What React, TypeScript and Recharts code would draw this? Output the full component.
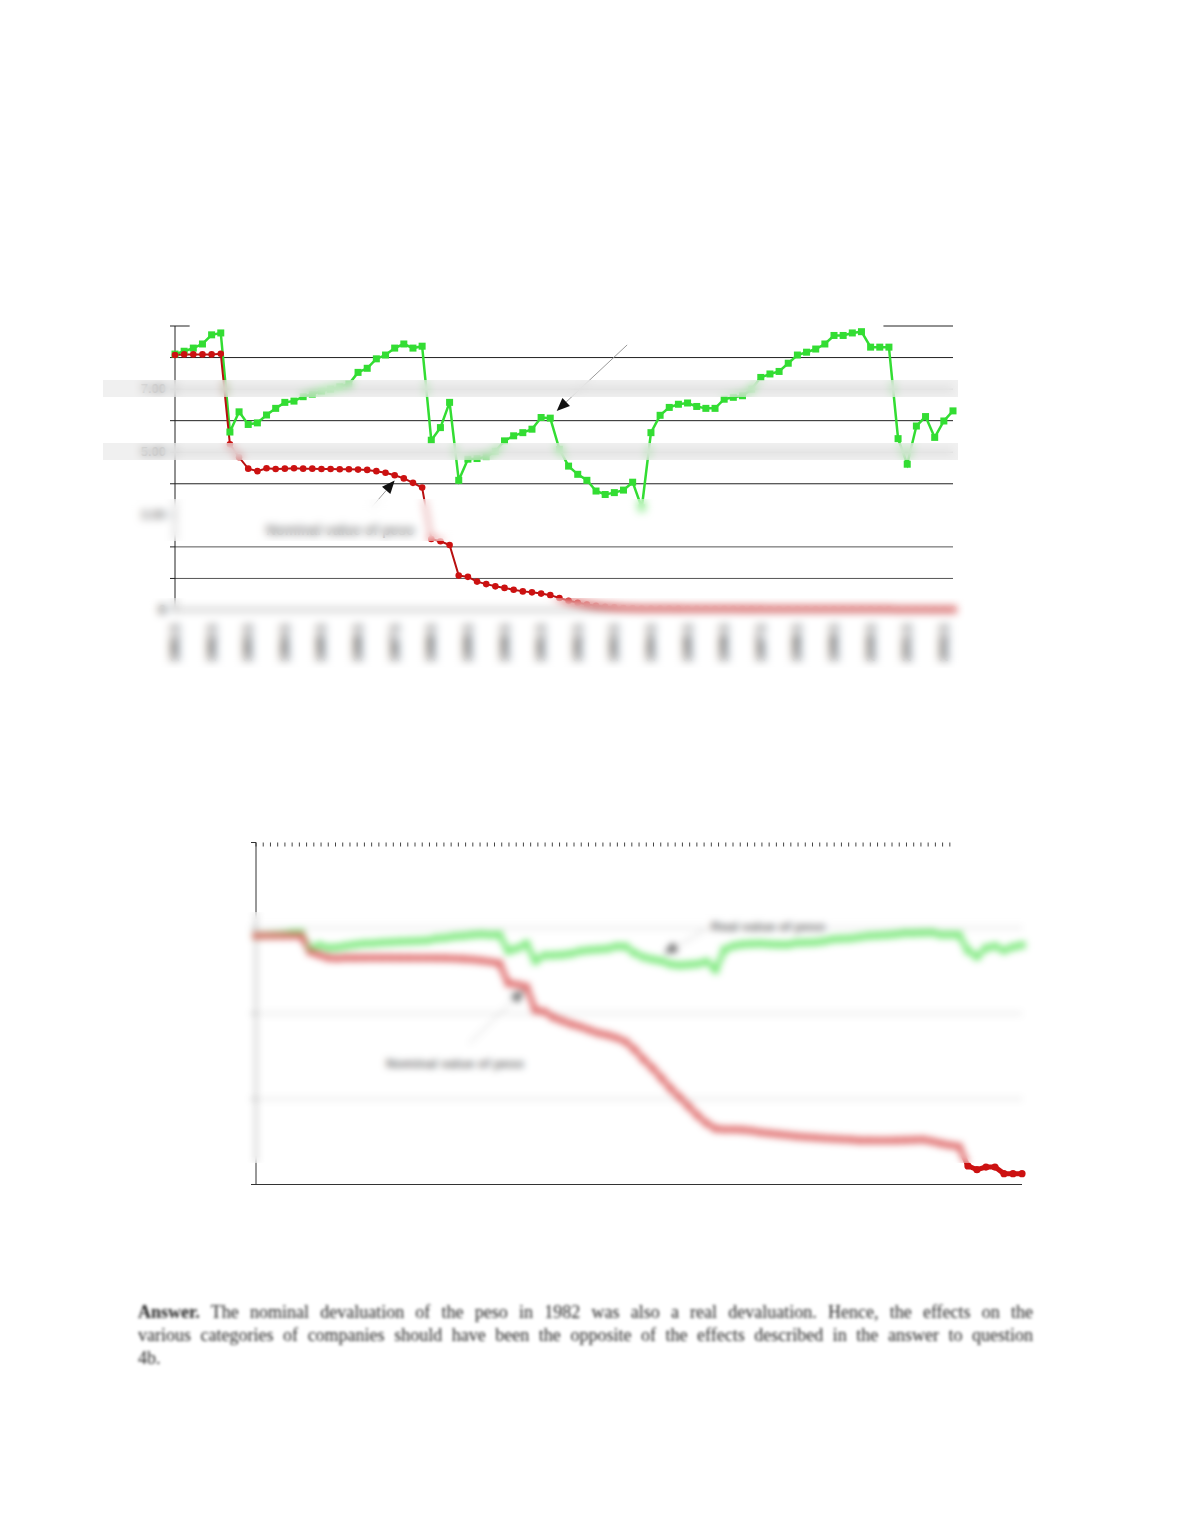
import React from "react";
import { LineChart, Line, XAxis, YAxis, ReferenceLine } from "recharts";

// quarterly observations, index 0..85
const yearLabels = [
  "1981:1", "1982:1", "1983:1", "1984:1", "1985:1", "1986:1", "1987:1", "1988:1",
  "1989:1", "1990:1", "1991:1", "1992:1", "1993:1", "1994:1", "1995:1", "1996:1",
  "1997:1", "1998:1", "1999:1", "2000:1", "2001:1", "2002:1",
];

const realValue = [
  8.11, 8.2, 8.3, 8.43, 8.72, 8.78, 5.64, 6.28, 5.88, 5.93,
  6.18, 6.39, 6.58, 6.62, 6.76, 6.84, 6.94, 7.0, 7.07, 7.16,
  7.53, 7.66, 7.96, 8.08, 8.3, 8.43, 8.3, 8.36, 5.38, 5.78,
  6.58, 4.11, 4.78, 4.8, 4.86, 5.03, 5.36, 5.52, 5.62, 5.73,
  6.1, 6.08, 5.09, 4.56, 4.3, 4.11, 3.77, 3.66, 3.72, 3.8,
  4.05, 3.24, 5.62, 6.17, 6.42, 6.52, 6.56, 6.45, 6.39, 6.39,
  6.68, 6.74, 6.79, 7.0, 7.37, 7.48, 7.56, 7.82, 8.08, 8.17,
  8.27, 8.43, 8.7, 8.7, 8.78, 8.82, 8.33, 8.33, 8.33, 5.43,
  4.62, 5.83, 6.13, 5.47, 5.99, 6.31,
];

const nominalValue = [
  8.08, 8.1, 8.1, 8.1, 8.1, 8.12, 5.25, 4.84, 4.48, 4.4,
  4.49, 4.47, 4.48, 4.49, 4.48, 4.48, 4.47, 4.47, 4.46, 4.46,
  4.45, 4.44, 4.4, 4.35, 4.27, 4.17, 4.03, 3.88, 2.25, 2.18,
  2.06, 1.09, 1.05, 0.9, 0.82, 0.75, 0.7, 0.64, 0.59, 0.56,
  0.52, 0.47, 0.38, 0.29, 0.23, 0.175, 0.133, 0.105, 0.082, 0.064,
  0.052, 0.045, 0.044, 0.044, 0.0436, 0.0424, 0.0408, 0.0397, 0.0386, 0.0376,
  0.0366, 0.0359, 0.0354, 0.0347, 0.0343, 0.0338, 0.0334, 0.0328, 0.0328, 0.0327,
  0.0327, 0.0328, 0.033, 0.0332, 0.0335, 0.032, 0.0302, 0.0288, 0.028, 0.0165,
  0.0149, 0.016, 0.016, 0.0134, 0.0134, 0.0134,
];

const linearTicks = [0, 1, 2, 3, 4, 5, 6, 7, 8, 9];
const linearGrid = [1, 2, 4, 5, 6, 7, 8];
const linearLabels: Record<number, string> = { 0: "0", 3: "3.00", 5: "5.00", 7: "7.00" };
const logTicks = [0.01, 0.1, 1, 10, 100];
const logGrid = [0.1, 1, 10];
// fine tick row along the top of the log chart
const topTicks = Array.from({ length: 97 }, (_, k) => k * 0.802);

const GREEN = "#33dd33";
const RED = "#cc1111";

const data = realValue.map((r, i) => ({ i, real: r, nominal: nominalValue[i] }));

const Square = (props: any) => {
  const { cx, cy, index } = props;
  if (cx == null || cy == null) return <g key={index} />;
  return <rect key={index} x={cx - 3.5} y={cy - 3.5} width={7} height={7} fill={GREEN} />;
};

const EmptyTick = () => <g />;

const Arrow = (props: any) => {
  const { x1, y1, x2, y2 } = props;
  const a = Math.atan2(y2 - y1, x2 - x1);
  const len = 13;
  const w = 5.5;
  const bx = x2 - len * Math.cos(a);
  const by = y2 - len * Math.sin(a);
  const pts = [
    [x2, y2],
    [bx + w * Math.sin(a), by - w * Math.cos(a)],
    [bx - w * Math.sin(a), by + w * Math.cos(a)],
  ]
    .map((p) => p.join(","))
    .join(" ");
  return (
    <g>
      <line x1={x1} y1={y1} x2={bx} y2={by} stroke="#9a9a9a" strokeWidth={1} />
      <polygon points={pts} fill="#111" />
    </g>
  );
};

const YearTick = ({ x, y, payload }: any) => (
  <g transform={`translate(${x},${y + 6})`}>
    <text
      transform="rotate(-90)"
      textAnchor="end"
      dy={4}
      fontSize={12}
      fontWeight="bold"
      fill="#333"
      fontFamily="Liberation Sans"
    >
      {yearLabels[payload.value / 4]}
    </text>
  </g>
);

const ValueTick = ({ x, y, payload }: any) => {
  const label = linearLabels[payload.value];
  if (!label) return <g />;
  return (
    <text x={x - 2} y={y} dy={4} textAnchor="end" fontSize={13} fontWeight="bold" fill="#333" fontFamily="Liberation Sans">
      {label}
    </text>
  );
};

const Blur = ({ left, top, width, height, blur, bg }: any) => (
  <div
    style={{
      position: "absolute",
      left,
      top,
      width,
      height,
      background: bg,
      backdropFilter: `blur(${blur}px)`,
      WebkitBackdropFilter: `blur(${blur}px)`,
    }}
  />
);

const Label = ({ left, top, size, children }: any) => (
  <div
    style={{
      position: "absolute",
      left,
      top,
      fontFamily: "Liberation Sans",
      fontSize: size,
      fontWeight: "bold",
      color: "#333",
      whiteSpace: "nowrap",
    }}
  >
    {children}
  </div>
);

const lineStyle: React.CSSProperties = {
  whiteSpace: "nowrap",
  textAlign: "justify",
  textAlignLast: "justify",
};

export default function App() {
  return (
    <div style={{ position: "absolute", left: 0, top: 0, width: 1180, height: 1527, background: "#fff" }}>
      {/* linear chart */}
      <div style={{ position: "absolute", left: 100, top: 300 }}>
        <LineChart width={880} height={370} data={data} margin={{ top: 26, right: 27, bottom: 10, left: 15 }}>
          <XAxis
            type="number"
            dataKey="i"
            domain={[0, 85]}
            ticks={yearLabels.map((_, k) => k * 4)}
            tick={<YearTick />}
            tickLine={false}
            axisLine={{ stroke: "#222" }}
            height={50}
          />
          <YAxis
            type="number"
            domain={[0, 9]}
            ticks={linearTicks}
            tick={<ValueTick />}
            tickSize={5}
            tickLine={{ stroke: "#222" }}
            axisLine={{ stroke: "#222" }}
            width={60}
          />
          {linearGrid.map((v) => (
            <ReferenceLine key={v} y={v} stroke={v < 3 ? "#555" : "#222"} strokeWidth={1} />
          ))}
          <ReferenceLine segment={[{ x: 0, y: 9 }, { x: 1.6, y: 9 }]} stroke="#222" />
          <ReferenceLine segment={[{ x: 77.4, y: 9 }, { x: 85, y: 9 }]} stroke="#222" />
          <Line dataKey="real" stroke={GREEN} strokeWidth={2.5} dot={Square} isAnimationActive={false} />
          <Line
            dataKey="nominal"
            stroke="#b81010"
            strokeWidth={2}
            dot={{ r: 3.3, fill: RED, stroke: RED, strokeWidth: 0 }}
            isAnimationActive={false}
          />
          <ReferenceLine segment={[{ x: 21.5, y: 3.26 }, { x: 24.0, y: 4.1 }]} shape={Arrow} ifOverflow="visible" />
          <ReferenceLine segment={[{ x: 49.4, y: 8.4 }, { x: 41.7, y: 6.31 }]} shape={Arrow} ifOverflow="visible" />
        </LineChart>
      </div>
      <Label left={266} top={522} size={14}>Nominal value of peso</Label>
      <Blur left={103} top={380} width={855} height={17} blur={4} bg="rgba(228,228,228,0.55)" />
      <Blur left={103} top={443} width={855} height={17} blur={4} bg="rgba(228,228,228,0.55)" />
      <Blur left={103} top={499} width={855} height={42} blur={4} bg="rgba(255,255,255,0.35)" />
      <Blur left={145} top={598} width={820} height={70} blur={4} bg="rgba(255,255,255,0.05)" />

      {/* log chart */}
      <div style={{ position: "absolute", left: 200, top: 820 }}>
        <LineChart width={850} height={390} data={data} margin={{ top: 22.5, right: 28, bottom: 25.5, left: 36 }}>
          <XAxis
            type="number"
            dataKey="i"
            orientation="top"
            domain={[0, 85]}
            ticks={topTicks}
            interval={0}
            tick={EmptyTick}
            mirror
            tickSize={4}
            tickLine={{ stroke: "#444" }}
            axisLine={false}
            height={10}
          />
          <YAxis
            type="number"
            scale="log"
            domain={[0.01, 100]}
            allowDataOverflow
            ticks={logTicks}
            interval={0}
            tick={EmptyTick}
            tickSize={5}
            tickLine={{ stroke: "#333" }}
            axisLine={{ stroke: "#333" }}
            width={20}
          />
          {logGrid.map((v) => (
            <ReferenceLine key={v} y={v} stroke="#d6d6d6" strokeWidth={2} />
          ))}
          <ReferenceLine y={0.01} stroke="#333" strokeWidth={1} />
          <Line dataKey="real" stroke={GREEN} strokeWidth={5} dot={Square} isAnimationActive={false} />
          <Line
            dataKey="nominal"
            stroke={RED}
            strokeWidth={5}
            dot={{ r: 3.6, fill: RED, stroke: RED, strokeWidth: 0 }}
            isAnimationActive={false}
          />
          <ReferenceLine segment={[{ x: 49.9, y: 9.45 }, { x: 45.3, y: 5.08 }]} shape={Arrow} ifOverflow="visible" />
          <ReferenceLine segment={[{ x: 23.7, y: 0.449 }, { x: 29.7, y: 1.87 }]} shape={Arrow} ifOverflow="visible" />
        </LineChart>
      </div>
      <Label left={711} top={919} size={13}>Real value of peso</Label>
      <Label left={386} top={1056} size={13}>Nominal value of peso</Label>
      <Blur left={232} top={912} width={805} height={251} blur={3.5} bg="rgba(255,255,255,0.3)" />

      {/* text below the charts */}
      <div
        style={{
          position: "absolute",
          left: 138,
          top: 1301,
          width: 895,
          fontFamily: "Liberation Serif",
          fontSize: 18,
          lineHeight: "23px",
          color: "#222",
          filter: "blur(1.8px)",
        }}
      >
        <div style={lineStyle}>
          <b>Answer.</b> The nominal devaluation of the peso in 1982 was also a real devaluation. Hence, the effects on the
        </div>
        <div style={lineStyle}>
          various categories of companies should have been the opposite of the effects described in the answer to question
        </div>
        <div>4b.</div>
      </div>
    </div>
  );
}
